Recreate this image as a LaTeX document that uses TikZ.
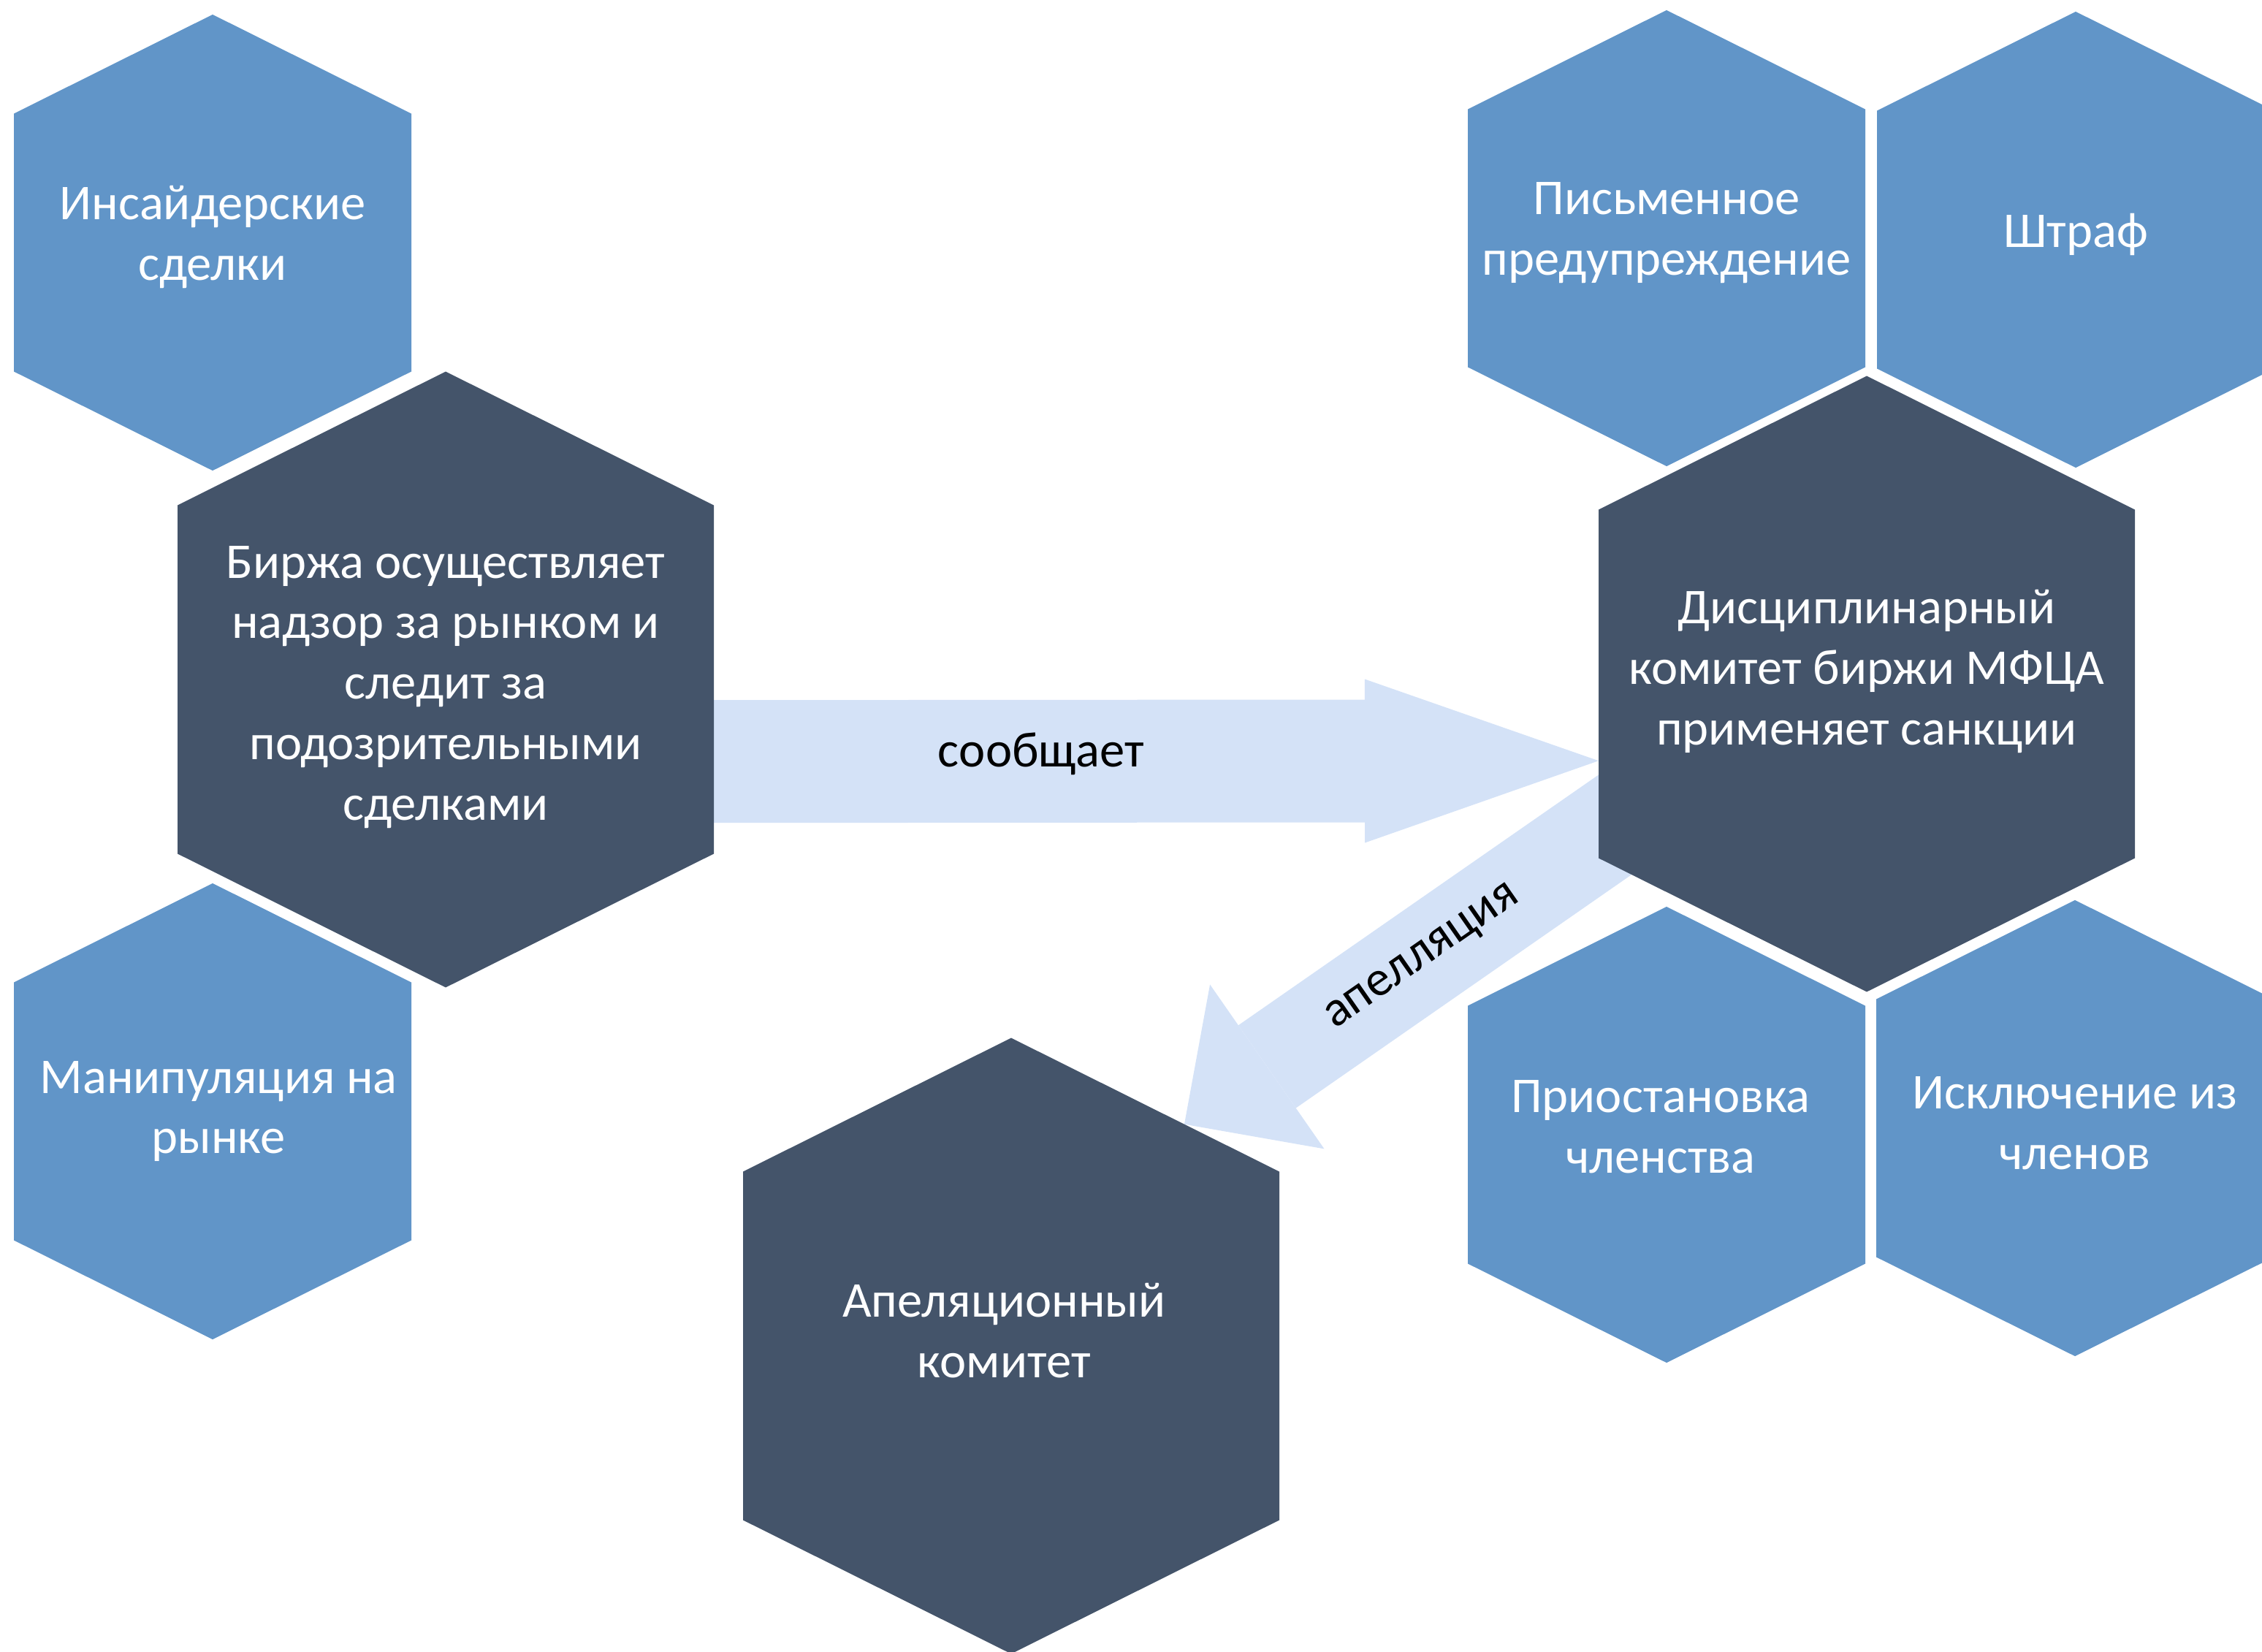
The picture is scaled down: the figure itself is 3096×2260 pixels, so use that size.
\documentclass[tikz,border=0pt]{standalone}
\usepackage{fontspec}
\setmainfont{Carlito}
\usetikzlibrary{shapes.symbols,arrows.meta,backgrounds,calc}
\definecolor{hexclair}{HTML}{6195C8}
\definecolor{hexfonce}{HTML}{44546A}
\definecolor{flechebleu}{HTML}{D4E2F7}

\begin{document}
\def\largclair{54.4mm}
\def\hautclair{35.3mm}
\def\largfonce{73.4mm}
\def\hautfonce{47.7mm}

\begin{tikzpicture}[x=0.1mm,y=-0.1mm]
\tikzstyle{hexa}=[signal,signal to=north and south,signal pointer angle=127,inner sep=0pt,outer sep=0pt]
\tikzstyle{clair}=[hexa,fill=hexclair,minimum width=\largclair,minimum height=\hautclair]
\tikzstyle{fonce}=[hexa,fill=hexfonce,minimum width=\largfonce,minimum height=\hautfonce]
\tikzstyle{texte}=[text=white,align=center,font=\fontsize{19.5pt}{23.6pt}\selectfont]
\tikzstyle{etiquette}=[text=black,font=\fontsize{19.5pt}{23.6pt}\selectfont]
\tikzstyle{fleche}=[flechebleu,line width=16.8mm,-{Triangle[length=32mm,width=22.4mm,line width=0pt]}]
\tikzstyle{flechebis}=[flechebleu,line width=13.8mm,-{Triangle[length=13.8mm,width=27.4mm,line width=0pt]}]

\useasboundingbox (0,0) rectangle (3096,2260);

\node[clair] (ins) at (291,332) {};
\node[texte,yshift=2.2pt] (ins-t) at (ins) {Инсайдерские\\сделки};

\node[fonce] (bourse) at (610,930) {};
\node[texte,yshift=-3pt] (bourse-t) at (bourse) {Биржа осуществляет\\надзор за рынком и\\следит за\\подозрительными\\сделками};

\node[clair] (manip) at (291,1521) {};
\node[texte,xshift=2.3pt] (manip-t) at (manip) {Манипуляция на\\рынке};

\node[fonce] (appel) at (1384,1842) {};
\node[texte,xshift=-2.8pt,yshift=6pt] (appel-t) at (appel) {Апеляционный\\комитет};

\node[fonce] (disc) at (2555,936) {};
\node[texte,yshift=4.8pt] (disc-t) at (disc) {Дисциплинарный\\комитет биржи МФЦА\\применяет санкции};

\node[clair] (avert) at (2281,326) {};
\node[texte,yshift=2pt] (avert-t) at (avert) {Письменное\\предупреждение};

\node[clair] (amende) at (2841,328) {};
\node[texte,yshift=2pt] (amende-t) at (amende) {Штраф};

\node[clair] (susp) at (2281,1553) {};
\node[texte,xshift=-2.3pt,yshift=3pt] (susp-t) at (susp) {Приостановка\\членства};

\node[clair] (excl) at (2840,1544) {};
\node[texte,yshift=2pt] (excl-t) at (excl) {Исключение из\\членов};

\begin{scope}[on background layer]
\draw[fleche] (bourse.-17) -- node[etiquette,pos=.37,yshift=3pt] (msg) {сообщает} (disc.196);
\coordinate (queue) at ($(disc.center)+(-155,61)$);
\draw[flechebis] (queue) -- node[etiquette,sloped,pos=.58] (app) {апелляция} (appel.52);
\end{scope}

\end{tikzpicture}
\end{document}
